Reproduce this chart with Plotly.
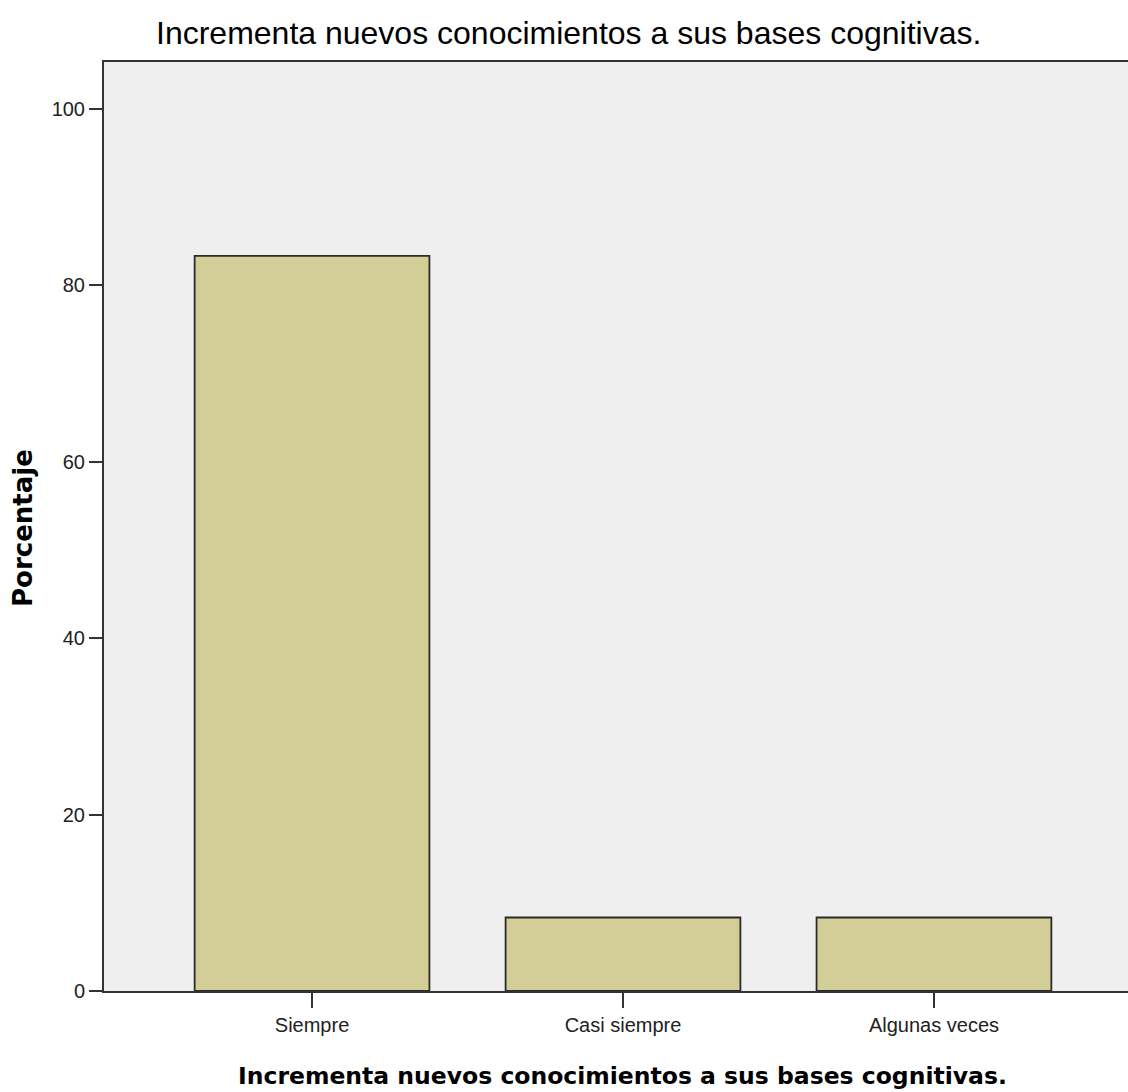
import plotly.graph_objects as go

categories = ["Siempre", "Casi siempre", "Algunas veces"]
percentages = [83.33, 8.33, 8.33]
y_ticks = [0, 20, 40, 60, 80, 100]
title_text = "Incrementa nuevos conocimientos a sus bases cognitivas."
y_title = "Porcentaje"

W, H = 1128, 1092
L, R, T, B = 104, 0, 62, 101

sans = "Liberation Sans, Arial, sans-serif"
boldf = "DejaVu Sans, Verdana, sans-serif"

fig = go.Figure()
fig.add_trace(go.Bar(
    x=list(range(len(categories))),
    y=percentages,
    marker=dict(color="#D3CE97", line=dict(color="#2b2b2b", width=1.8)),
    hoverinfo="skip",
))

fig.update_layout(
    width=W, height=H,
    margin=dict(l=L, r=R, t=T, b=B, pad=0),
    paper_bgcolor="white",
    plot_bgcolor="#EFEFEF",
    bargap=0.245,
    showlegend=False,
    xaxis=dict(
        range=[-0.669, 2.624],
        tickmode="array",
        tickvals=list(range(len(categories))),
        ticktext=categories,
        ticks="outside", ticklen=15, tickwidth=1.5, tickcolor="#333",
        showline=True, linecolor="#333", linewidth=2, mirror=True,
        showgrid=False, zeroline=False,
        tickfont=dict(family=sans, size=20, color="#222"),
    ),
    yaxis=dict(
        range=[0, 105.3],
        tickmode="array",
        tickvals=y_ticks,
        ticks="outside", ticklen=13, tickwidth=1.5, tickcolor="#333",
        showline=True, linecolor="#333", linewidth=2,
        showgrid=False, zeroline=False,
        tickfont=dict(family=sans, size=20, color="#222"),
    ),
    annotations=[
        dict(text=title_text, x=(568 - L) / (W - L - R), y=1 + (T - 33) / (H - T - B),
             xref="paper", yref="paper", xanchor="center", yanchor="middle",
             showarrow=False, font=dict(family=sans, size=32, color="black")),
        dict(text="<b>" + title_text + "</b>", x=(622 - L) / (W - L - R), y=-(1076 - (H - B)) / (H - T - B),
             xref="paper", yref="paper", xanchor="center", yanchor="middle",
             showarrow=False, font=dict(family=boldf, size=23.5, color="black")),
        dict(text="<b>" + y_title + "</b>", x=-(L - 23) / (W - L - R), y=(H - B - 528) / (H - T - B),
             xref="paper", yref="paper", xanchor="center", yanchor="middle", textangle=-90,
             showarrow=False, font=dict(family=boldf, size=26, color="black")),
    ],
)

fig.write_html(
    "out.html",
    config={"displayModeBar": False},
    post_script="document.body.style.margin='0';document.body.style.overflow='hidden';",
)
